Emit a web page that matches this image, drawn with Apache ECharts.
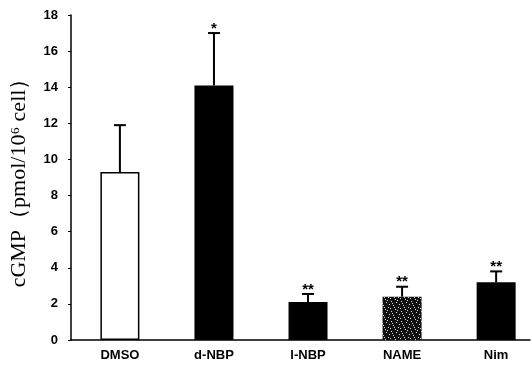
<!DOCTYPE html>
<html><head><meta charset="utf-8">
<script src="https://cdn.jsdelivr.net/npm/echarts@6/dist/echarts.min.js"></script>
<style>html,body{margin:0;padding:0;background:#fff}#c{width:532px;height:367px}</style>
</head><body><div id="c"></div>
<script>
const categories = ['DMSO', 'd-NBP', 'l-NBP', 'NAME', 'Nim'];
const means = [9.3, 14.1, 2.1, 2.4, 3.2];
const errTops = [11.9, 17.0, 2.55, 2.95, 3.8];
const marks = ['', '*', '**', '**', '**'];
const yTicks = [0, 2, 4, 6, 8, 10, 12, 14, 16, 18];

// deterministic speckle texture for NAME bar
const pat = document.createElement('canvas');
pat.width = 10; pat.height = 10;
const g = pat.getContext('2d');
g.fillStyle = '#111'; g.fillRect(0, 0, 10, 10);
g.fillStyle = '#d8d8d8';
[[1,1],[6,2],[3,5],[8,7],[0,8],[5,9],[9,4],[2,3],[7,0],[4,7]].forEach(p => g.fillRect(p[0], p[1], 1, 1));

const barStyles = [
  {color: '#fff', borderColor: '#000', borderWidth: 1.5},
  {color: '#000'},
  {color: '#000'},
  {color: {image: pat, repeat: 'repeat'}},
  {color: '#000'}
];

const chart = echarts.init(document.getElementById('c'), null, {renderer: 'canvas'});
chart.setOption({
  animation: false,
  backgroundColor: '#fff',
  grid: {left: 70, right: 2, top: 15, bottom: 27},
  xAxis: {
    type: 'value', min: -0.52, max: 4.36,
    splitLine: {show: false},
    axisLine: {lineStyle: {color: '#000', width: 1.5}},
    axisTick: {show: false},
    axisLabel: {color: '#000', fontFamily: 'Liberation Sans', fontWeight: 'bold', fontSize: 13, margin: 9,
      customValues: categories.map((c, i) => i), formatter: v => categories[Math.round(v)] || ''}
  },
  yAxis: {
    type: 'value', min: 0, max: 18, interval: 2,
    name: 'cGMP（pmol/10⁶ cell）', nameLocation: 'middle', nameGap: 41,
    nameTextStyle: {color: '#000', fontFamily: 'Liberation Serif', fontSize: 22},
    axisLine: {show: true, onZero: false, lineStyle: {color: '#000', width: 1.5}},
    axisTick: {show: true, length: 3, lineStyle: {color: '#000'}},
    splitLine: {show: false},
    axisLabel: {color: '#000', fontFamily: 'Liberation Sans', fontWeight: 'bold', fontSize: 13, margin: 13,
      formatter: v => yTicks.includes(v) ? String(v) : ''}
  },
  series: [
    {
      type: 'bar', barWidth: 39,
      data: means.map((v, i) => ({value: [i, v], itemStyle: barStyles[i]}))
    },
    {
      type: 'custom', z: 5,
      data: means.map((v, i) => [i, v, errTops[i], marks[i]]),
      renderItem: (params, api) => {
        const i = api.value(0);
        const p0 = api.coord([i, api.value(1)]);
        const p1 = api.coord([i, api.value(2)]);
        const st = {stroke: '#000', lineWidth: 2};
        return {
          type: 'group',
          children: [
            {type: 'line', shape: {x1: p0[0], y1: p0[1], x2: p1[0], y2: p1[1]}, style: st},
            {type: 'line', shape: {x1: p1[0] - 6, y1: p1[1], x2: p1[0] + 6, y2: p1[1]}, style: st},
            {type: 'text', x: p1[0], y: p1[1] + 3,
              style: {text: marks[i], fill: '#000', font: 'bold 15px "Liberation Sans"', align: 'center', verticalAlign: 'bottom'}}
          ]
        };
      }
    }
  ]
});
</script></body></html>
